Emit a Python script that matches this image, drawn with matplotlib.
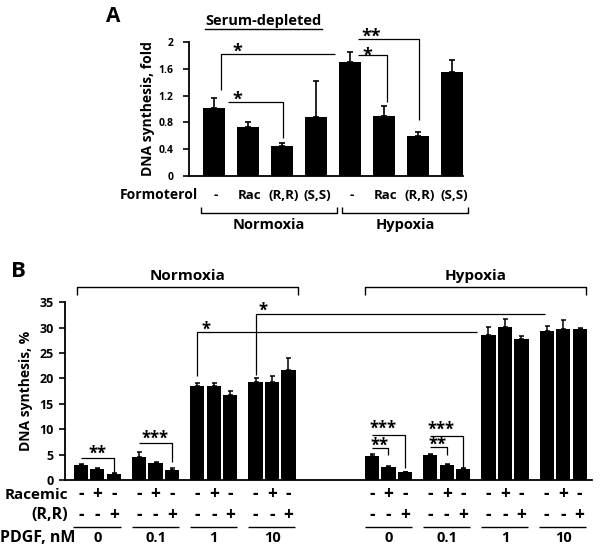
import numpy as np
import matplotlib
matplotlib.use('Agg')
import matplotlib.pyplot as plt
from matplotlib.transforms import offset_copy

plt.rcParams['font.family'] = ['Open Sans', 'DejaVu Sans']
plt.rcParams['font.weight'] = 'bold'
plt.rcParams['axes.labelweight'] = 'bold'

# ---- panel A data (serum-depleted, fold) ----
a_conditions = ['Normoxia', 'Hypoxia']
a_formoterol = ['-', 'Rac', '(R,R)', '(S,S)']
a_means = [1.01, 0.73, 0.44, 0.88, 1.71, 0.89, 0.59, 1.55]
a_err = [0.15, 0.07, 0.05, 0.54, 0.14, 0.15, 0.07, 0.18]

# ---- panel B data (DNA synthesis, %) ----
pdgf_levels = ['0', '0.1', '1', '10']
racemic_row = ['-', '+', '-']
rr_row = ['-', '-', '+']
norm_means = [[3.0, 2.2, 1.1], [4.6, 3.4, 1.9], [18.6, 18.6, 16.7], [19.4, 19.4, 21.7]]
norm_err = [[0.2, 0.1, 0.2], [1.0, 0.15, 0.55], [0.5, 0.5, 0.9], [0.7, 1.0, 2.4]]
hyp_means = [[4.8, 2.5, 1.6], [4.9, 3.0, 2.1], [28.6, 30.1, 27.8], [29.3, 29.7, 29.8]]
hyp_err = [[0.25, 0.25, 0.05], [0.2, 0.2, 0.2], [1.5, 1.7, 0.5], [1.1, 1.9, 0.2]]

W, H = 600, 558
fig = plt.figure(figsize=(W / 100, H / 100), dpi=100)


def box(l, t, r, b):
    return [l / W, 1 - b / H, (r - l) / W, (b - t) / H]


def line(ax, xs, ys, lw=0.9):
    ax.plot(xs, ys, color='black', lw=lw, clip_on=False, solid_capstyle='butt')


def stars(ax, x, y, s, size=13):
    # y is the visual centre of the asterisks
    tr = offset_copy(ax.transData, fig=fig, y=-0.55 * size, units='points')
    ax.text(x, y, s, transform=tr, ha='center', va='baseline', fontsize=size,
            clip_on=False)


def style(ax):
    for s in ['top', 'right']:
        ax.spines[s].set_visible(False)
    for s in ['left', 'bottom']:
        ax.spines[s].set_linewidth(1.3)
    ax.set_xticks([])


# ================= Panel A =================
axA = fig.add_axes(box(189, 42.3, 463.3, 175.7))
xa = np.arange(len(a_means))
axA.bar(xa, a_means, width=0.64, color='black')
axA.errorbar(xa, a_means, yerr=[np.zeros(len(a_err)), a_err], fmt='none',
             ecolor='black', elinewidth=1.2, capsize=2.2, capthick=1.2)
axA.set_xlim(-0.73, 7.32)
axA.set_ylim(0, 2)
axA.set_yticks([0, 0.4, 0.8, 1.2, 1.6, 2])
axA.set_yticklabels(['0', '0.4', '0.8', '1.2', '1.6', '2'])
style(axA)
axA.tick_params(axis='y', length=4, width=1.2, labelsize=7.5, pad=7)
axA.set_ylabel('DNA synthesis, fold', fontsize=10, labelpad=3)

# row of formoterol labels
for i in xa:
    axA.text(i + 0.05, -0.29, a_formoterol[i % 4], ha='center', va='center',
             fontsize=9.5, clip_on=False)
axA.text(-0.47, -0.29, 'Formoterol', ha='right', va='center', fontsize=10,
         clip_on=False)
for k, (x0, x1) in enumerate([(-0.39, 3.6), (3.76, 7.46)]):
    line(axA, [x0, x0, x1, x1], [-0.465, -0.555, -0.555, -0.465], lw=1)
    axA.text((x0 + x1) / 2, -0.74, a_conditions[k], ha='center', va='center',
             fontsize=10.5, clip_on=False)

# significance
line(axA, [0.2, 0.2, 3.55], [1.285, 1.82, 1.82])
stars(axA, 0.7, 1.93, '*')
line(axA, [0.4, 2.03, 2.03], [1.11, 1.11, 0.565])
stars(axA, 0.7, 1.21, '*')
line(axA, [4.22, 5.09, 5.09], [1.81, 1.81, 1.11])
stars(axA, 4.51, 1.88, '*')
line(axA, [4.22, 6.02, 6.02], [2.045, 2.045, 0.835])
stars(axA, 4.63, 2.15, '**')

fig.text(113 / W, 1 - 17 / H, 'A', fontsize=15, ha='center', va='center')
t = fig.text(263.5 / W, 1 - 21 / H, 'Serum-depleted', fontsize=10.5,
             ha='center', va='center')
fig.canvas.draw()
bb = t.get_window_extent(fig.canvas.get_renderer())
fig.add_artist(plt.Line2D([bb.x0 / W, bb.x1 / W], [1 - 29 / H, 1 - 29 / H],
                          color='black', lw=1))

# ================= Panel B =================
axB = fig.add_axes(box(65, 302.3, 591.7, 480))
offs = np.array([-0.283, 0.0, 0.283])
for base, means, errs in [(0, norm_means, norm_err), (5, hyp_means, hyp_err)]:
    for g in range(4):
        xs = base + g + offs
        axB.bar(xs, means[g], width=0.245, color='black')
        axB.errorbar(xs, means[g], yerr=[np.zeros(3), errs[g]], fmt='none',
                     ecolor='black', elinewidth=1.1, capsize=1.8, capthick=1.1)
        for j in range(3):
            axB.text(xs[j], -2.8, racemic_row[j], ha='center', va='center',
                     fontsize=12.5, clip_on=False)
            axB.text(xs[j], -6.9, rr_row[j], ha='center', va='center',
                     fontsize=12.5, clip_on=False)
        line(axB, [base + g - 0.41, base + g + 0.4], [-9.2, -9.2], lw=1)
        axB.text(base + g, -11.5, pdgf_levels[g], ha='center', va='center',
                 fontsize=10.5, clip_on=False)

axB.set_xlim(-0.555, 8.49)
axB.set_ylim(0, 35)
axB.set_yticks(np.arange(0, 36, 5))
style(axB)
axB.tick_params(axis='y', length=4, width=1.2, labelsize=9, pad=4)
axB.set_ylabel('DNA synthesis, %', fontsize=10, labelpad=5)

axB.text(-0.5, -3.0, 'Racemic', ha='right', va='center', fontsize=11,
         clip_on=False)
axB.text(-0.5, -6.9, '(R,R)', ha='right', va='center', fontsize=11.5,
         clip_on=False)
axB.text(-0.38, -11.5, 'PDGF, nM', ha='right', va='center', fontsize=11.5,
         clip_on=False)

for name, (x0, x1) in [('Normoxia', (-0.344, 3.45)), ('Hypoxia', (4.59, 8.39))]:
    line(axB, [x0, x0, x1, x1], [36.46, 38.1, 38.1, 36.46], lw=1)
    axB.text((x0 + x1) / 2, 40.26, name, ha='center', va='center',
             fontsize=11, clip_on=False)

# significance, panel B
line(axB, [-0.283, 0.283, 0.283], [4.4, 4.4, 1.12])
stars(axB, 0.0, 5.9, '**', 12)
line(axB, [0.717, 1.283, 1.283], [7.23, 7.23, 3.49])
stars(axB, 0.99, 8.87, '***', 12)
line(axB, [1.717, 1.717, 6.52], [20.4, 29.1, 29.1])
stars(axB, 1.87, 30.5, '*', 12)
line(axB, [2.717, 2.717, 7.69], [20.7, 32.66, 32.66])
stars(axB, 2.85, 34.15, '*', 12)
for g, (top3, top2) in zip([5, 6], [(8.87, 6.37), (8.73, 6.56)]):
    line(axB, [g - 0.283, g + 0.283, g + 0.283], [top3, top3, top3 - 6.5])
    stars(axB, g - 0.1, top3 + 2.0, '***', 12)
    line(axB, [g - 0.283, g, g], [top2, top2, 4.93])
    stars(axB, g - 0.15, top2 + 1.2, '**', 12)

fig.text(18 / W, 1 - 272 / H, 'B', fontsize=16, ha='center', va='center')

fig.savefig('out.png', dpi=100)
